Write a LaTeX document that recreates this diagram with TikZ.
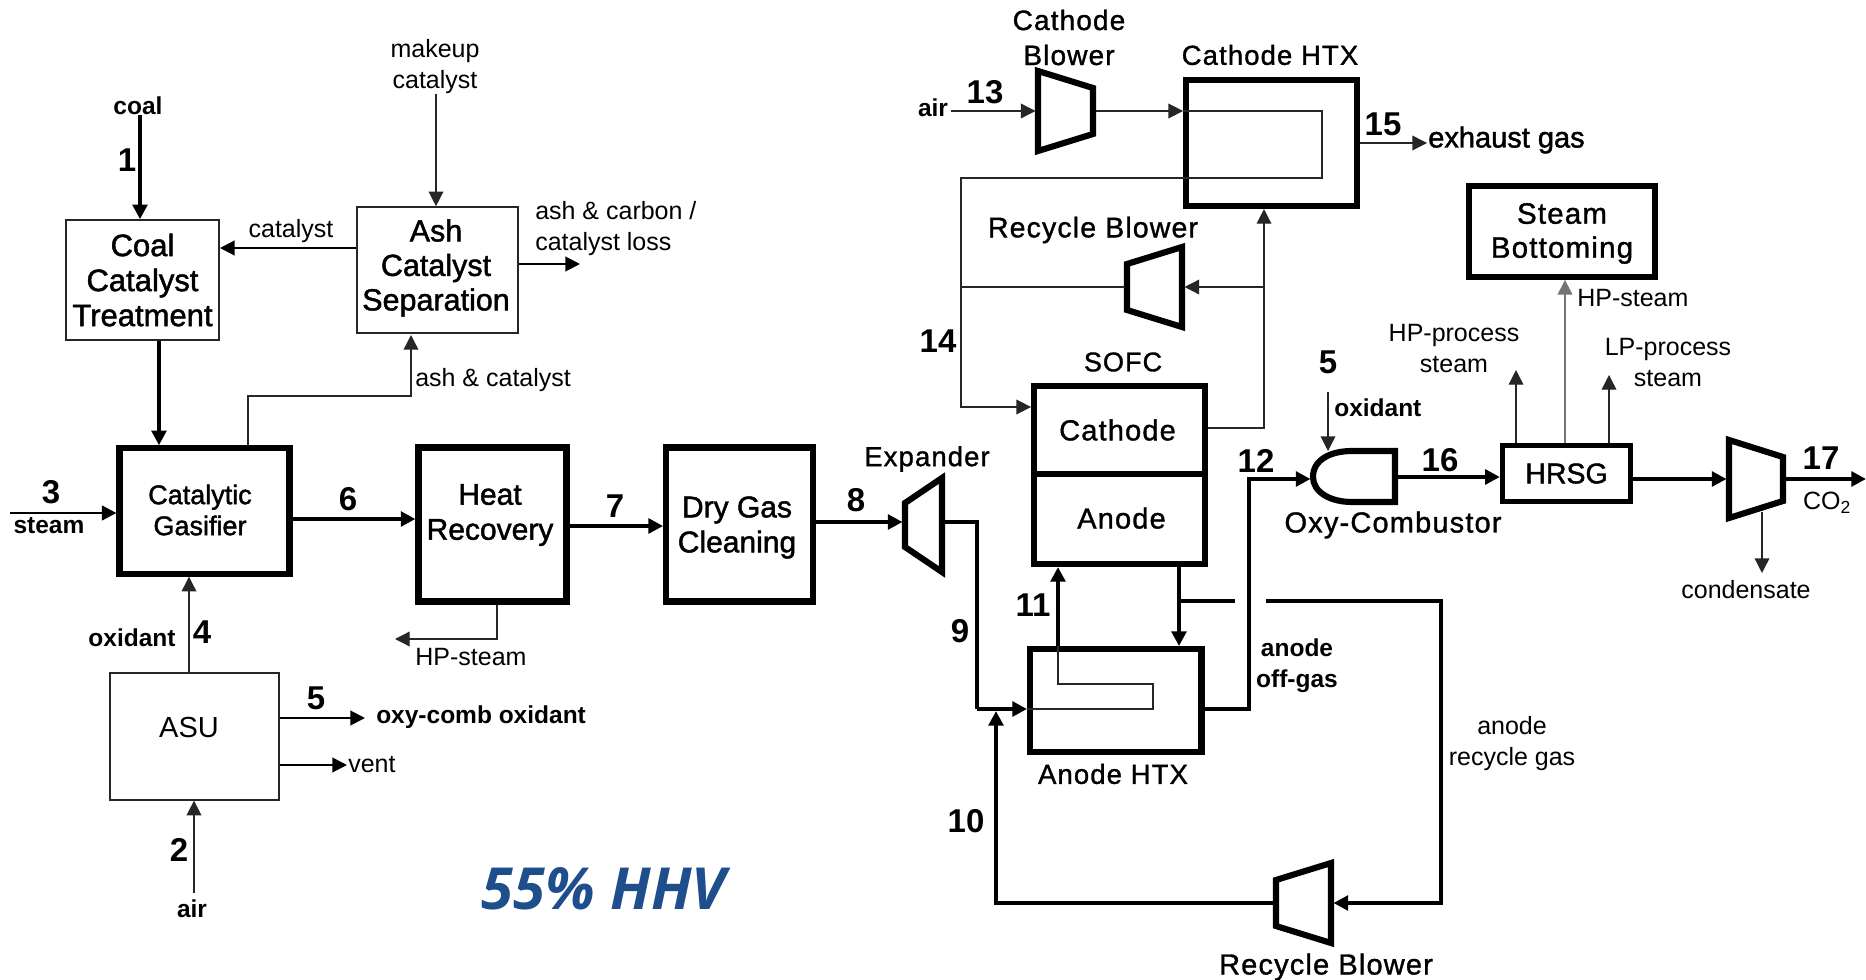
\documentclass[tikz,border=0pt]{standalone}
\usepackage{fontspec}
\setmainfont{Liberation Sans}
\newfontfamily\medf{Liberation Sans}[FakeBold=1.5]
\newfontfamily\labf{Liberation Sans}[FakeBold=1.2,LetterSpace=4]
\newfontfamily\hhvf{Open Sans}
\usetikzlibrary{arrows.meta}
\newcommand{\px}[2]{\fontsize{\fpeval{#1*0.75}pt}{\fpeval{#2*0.75}pt}\selectfont}
\definecolor{hhvblue}{HTML}{1F4E8C}
\tikzset{
  >={Triangle[length=11pt,width=11pt]},
  thinl/.style={line width=1pt,draw=black!85},
  midl/.style={line width=2pt,draw=black},
  heavyl/.style={line width=3pt,draw=black},
  thinbox/.style={draw=black!85,line width=1.2pt,rectangle,align=center,inner sep=0pt},
  fatbox/.style={draw=black,line width=4.6pt,rectangle,align=center,inner sep=0pt},
  vessel/.style={draw=black,line width=4.6pt,line join=miter,fill=white},
  plain/.style={inner sep=0pt,align=center,font=\px{25}{31}},
  boldt/.style={inner sep=0pt,align=center,font={\bfseries\px{24.5}{31}}},
  numt/.style={inner sep=0pt,font={\bfseries\px{33}{33}}},
  labt/.style={inner sep=0pt,align=center,font={\labf\px{#1}{35}}},
  medt/.style={inner sep=0pt,align=center,font={\medf\px{#1}{35}}},
}
\newcommand{\blower}[6]{% name, xleft, xright, yc, half-height left, half-height right
  \draw[vessel] (#2,#4-#5) -- (#3,#4-#6) -- (#3,#4+#6) -- (#2,#4+#5) -- cycle;
  \coordinate (#1in) at (#2-2.5,#4);
  \coordinate (#1out) at (#3+2.5,#4);
}
\begin{document}
\begin{tikzpicture}[x=0.75pt,y=-0.75pt]
\useasboundingbox[fill=white] (0,0) rectangle (1866,980);

%----- left-hand boxes
\node[thinbox,minimum width=115pt,minimum height=90pt,font={\medf\px{31}{35}}] (coal) at (142.5,280) {Coal\\Catalyst\\Treatment};
\node[thinbox,minimum width=121pt,minimum height=94.5pt] (ash) at (437.5,270) {};
\node[medt=30.5,font={\medf\px{30.5}{34.5}}] (ashtxt) at (436,268) {Ash\\Catalyst\\Separation};
\node[fatbox,minimum width=127.5pt,minimum height=94pt] (gas) at (204.5,511) {};
\node[medt=27,font={\medf\px{27}{31}}] (gastxt) at (200,510) {Catalytic\\Gasifier};
\node[fatbox,minimum width=111pt,minimum height=115.5pt] (heat) at (492.5,524.5) {};
\node[medt=30] (heattxt) at (490,515) {Heat\\Recovery};
\node[fatbox,minimum width=110pt,minimum height=115.5pt] (dry) at (739.5,524.5) {};
\node[medt=30] (drytxt) at (737,527.5) {Dry Gas\\Cleaning};
\node[thinbox,minimum width=127pt,minimum height=95pt] (asu) at (194.5,736.5) {};
\node[inner sep=0pt,font={\px{29}{35}}] (asutxt) at (189,728) {ASU};

%----- left-hand labels
\node[boldt] (lcoal) at (138,106) {coal};
\node[numt] (n1) at (127,160) {1};
\node[plain] (lmk) at (435,66.5) {makeup\\catalyst};
\node[plain] (lcat) at (291,231) {catalyst};
\node[plain,align=left,anchor=west] (lloss) at (535,228.5) {ash \& carbon /\\catalyst loss};
\node[plain,anchor=west] (lac) at (415,380) {ash \& catalyst};
\node[numt] (n3) at (51,492) {3};
\node[boldt] (lsteam) at (49,526) {steam};
\node[numt] (n6) at (348,499) {6};
\node[numt] (n7) at (615,506) {7};
\node[boldt] (lox) at (132,638) {oxidant};
\node[numt] (n4) at (202,632) {4};
\node[plain] (lhp) at (471,657) {HP-steam};
\node[numt] (n5a) at (316,698) {5};
\node[boldt,anchor=west] (loxy) at (376,717) {oxy-comb oxidant};
\node[plain,anchor=west] (lvent) at (348,765) {vent};
\node[numt] (n2) at (179,850) {2};
\node[boldt] (lair) at (192,909) {air};
\node[inner sep=0pt,text=hhvblue,font={\hhvf\bfseries\itshape\px{58}{60}}] (hhv) at (604,889) {55\% HHV};

%----- left-hand connectors
\draw[heavyl,->] (140,0 |- lcoal.south) -- (140,0 |- coal.north);
\draw[thinl,->] (436,0 |- lmk.south) -- (436,0 |- ash.north);
\draw[midl,->,line width=1.5pt] (0,248 -| ash.west) -- (0,248 -| coal.east);
\draw[midl,->,line width=1.5pt] (0,264 -| ash.east) -- (580,264);
\draw[heavyl,->] (159,0 |- coal.south) -- (159,0 |- gas.north);
\draw[thinl,->] (248,0 |- gas.north) -- (248,396) -- (411,396) -- (411,335);
\draw[midl,->] (10,513) -- (0,513 -| gas.west);
\draw[heavyl,->] (0,519 -| gas.east) -- (0,519 -| heat.west);
\draw[heavyl,->] (0,526 -| heat.east) -- (0,526 -| dry.west);
\draw[thinl,->] (189,0 |- asu.north) -- (189,0 |- gas.south);
\draw[thinl,->] (497,0 |- heat.south) -- (497,639) -- (395,639);
\draw[midl,->,line width=1.5pt] (0,718 -| asu.east) -- (365,718);
\draw[midl,->,line width=1.5pt] (0,765 -| asu.east) -- (347,765);
\draw[thinl,->] (194,893) -- (194,0 |- asu.south);

%----- blowers and expanders
\blower{cb}{1038}{1093}{111}{40}{23}
\blower{rb}{1127}{1182}{287}{23}{40}
\blower{ex}{905}{942}{525}{22}{47}
\blower{rc}{1276}{1331}{903}{23}{40}
\blower{cp}{1729}{1783}{479}{39}{22}

%----- fuel cell and heat exchangers
\node[fatbox,minimum width=128pt,minimum height=94.5pt] (chtx) at (1271.5,143) {};
\node[fatbox,minimum width=128pt,minimum height=66pt,font={\labf\px{29}{35}}] (cath) at (1119.5,430) {Cathode\hspace*{3pt}};
\node[fatbox,minimum width=128pt,minimum height=67.5pt,font={\labf\px{29}{35}}] (anod) at (1119.5,519) {\hspace*{3pt}\raisebox{1.5pt}{Anode}};
\node[fatbox,minimum width=128.5pt,minimum height=77.5pt] (ahtx) at (1115.75,700.75) {};
\node[fatbox,minimum width=96pt,minimum height=42pt,line width=4pt,font={\medf\px{28.5}{35}}] (hrsg) at (1566.5,473.5) {HRSG};
\node[fatbox,minimum width=139.5pt,minimum height=68pt] (sb) at (1562,231.5) {};
\node[labt=29.5,font={\labf\px{29.5}{34}}] (sbtxt) at (1562,233.5) {Steam\\Bottoming};

\draw[vessel] (1395,451) -- (1352,451) .. controls (1330,451) and (1313,460) .. (1313,477)
  .. controls (1313,492) and (1330,502) .. (1352,502) -- (1395,502) -- cycle;
\coordinate (oxin) at (1310.5,479);
\coordinate (oxout) at (1397,477);
\coordinate (oxtop) at (1328,451);

%----- right-hand labels
\node[labt=28] (lcb) at (1069,37.5) {Cathode\\Blower};
\node[labt=27.5] (lchtx) at (1270,55) {Cathode HTX};
\node[boldt] (lair2) at (933,108) {air};
\node[numt] (n13) at (985,92) {13};
\node[numt] (n15) at (1383,124) {15};
\node[medt=29,anchor=west] (lexh) at (1428,140) {exhaust gas};
\node[labt=28.5] (lrb) at (1093,230) {Recycle Blower};
\node[numt] (n14) at (938,341) {14};
\node[labt=27] (lsofc) at (1123,362) {SOFC};
\node[labt=27.5] (lexp) at (927,459) {Expander};
\node[numt] (n8) at (856,500) {8};
\node[numt] (n9) at (960,631) {9};
\node[numt] (n11) at (1033,605) {11};
\node[numt] (n10) at (966,821) {10};
\node[numt] (n12) at (1256,461) {12};
\node[labt=27.5] (lahtx) at (1113,774) {Anode HTX};
\node[boldt] (loff) at (1297,665.5) {anode\\off-gas};
\node[plain] (lrec) at (1512,744) {anode\\recycle gas};
\node[labt=29] (lrc) at (1326,967) {Recycle Blower};
\node[numt] (n5b) at (1328,362) {5};
\node[boldt,anchor=west] (lox2) at (1334,408) {oxidant};
\node[labt=29] (loc) at (1393,525) {Oxy-Combustor};
\node[numt] (n16) at (1440,460) {16};
\node[plain] (lhpp) at (1454,348.5) {HP-process\\steam};
\node[plain,anchor=west] (lhps) at (1577,298) {HP-steam};
\node[plain] (llpp) at (1668,362.5) {LP-process\\steam};
\node[numt] (n17) at (1821,458) {17};
\node[plain] (lco2) at (1827,503) {CO\textsubscript{2}};
\node[plain] (lcond) at (1746,590) {condensate};

%----- right-hand connectors
\draw[thinl,->] (lair2.east |- cbin) ++(3,0) -- (cbin);
\draw[thinl,->] (cbout) -- (chtx.west |- cbout);
\draw[thinl,->] (chtx.west |- cbout) -- (1322,0 |- cbout) -- (1322,178) -- (961,178) -- (961,407) -- (cath.west |- 0,407);
\draw[thinl] (961,0 |- rbin) -- (rbin);
\coordinate (cj) at (1264,428);
\draw[thinl,->] (cath.east |- cj) -- (cj) -- (cj |- chtx.south);
\draw[thinl,->] (cj |- rbout) -- (rbout);
\draw[thinl,->] (chtx.east |- 0,143) -- (1427,143);

\draw[heavyl,->] (dry.east |- 0,522) -- (exin |- 0,522);
\draw[heavyl] (exout |- 0,522) -- (977,522) -- (977,709);
\draw[heavyl,->] (977,709) -- (ahtx.west |- 0,709);
\draw[thinl] (ahtx.west |- 0,709) -- (1153,709) -- (1153,684) -- (1058,684) -- (1058,0 |- ahtx.north);
\draw[heavyl,->] (1058,0 |- ahtx.north) -- (1058,0 |- anod.south);
\draw[heavyl,->] (1179,0 |- anod.south) -- (1179,0 |- ahtx.north);
\draw[heavyl] (1179,601) -- (1235,601);
\draw[heavyl,->] (1266,601) -- (1441,601) -- (1441,0 |- rcout) -- (rcout);
\draw[heavyl,->] (rcin) -- (996,0 |- rcin) -- (996,711);
\draw[heavyl,->] (ahtx.east |- 0,709) -- (1249,709) -- (1249,479) -- (oxin);
\draw[thinl,->] (1328,392) -- (oxtop);
\draw[heavyl,->] (oxout) -- (hrsg.west |- oxout);
\draw[heavyl,->] (hrsg.east |- cpin) -- (cpin);
\draw[heavyl,->] (cpout) -- (1866,0 |- cpout);
\draw[thinl,->] (1516,0 |- hrsg.north) -- (1516,370);
\draw[thinl,->,draw=black!55] (1565,0 |- hrsg.north) -- (1565,0 |- sb.south);
\draw[thinl,->] (1609,0 |- hrsg.north) -- (1609,375);
\draw[thinl,->] (1762,512) -- (1762,573);
\end{tikzpicture}
\end{document}
